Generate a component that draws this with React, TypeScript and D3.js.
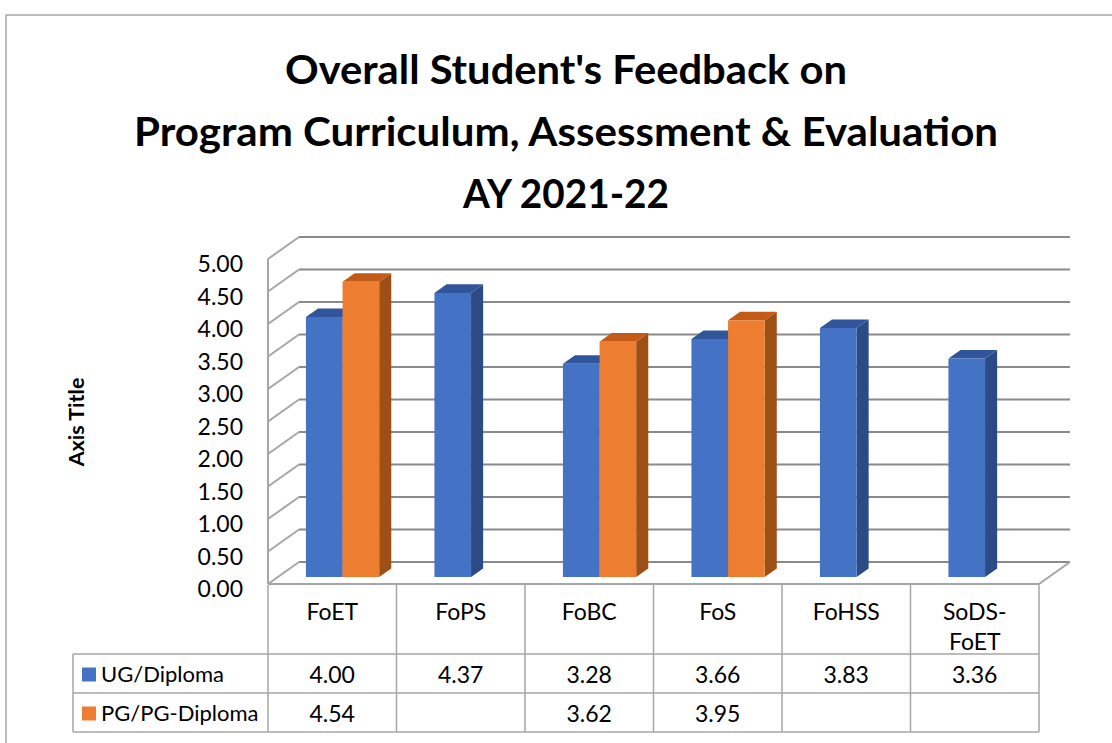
import React from "react";
import * as d3 from "d3";

const categories = ["FoET", "FoPS", "FoBC", "FoS", "FoHSS", "SoDS-FoET"];
const seriesNames = ["UG/Diploma", "PG/PG-Diploma"];
const ugValues: (number | null)[] = [4.0, 4.37, 3.28, 3.66, 3.83, 3.36];
const pgValues: (number | null)[] = [4.54, null, 3.62, 3.95, null, null];
const yTicks = [0, 0.5, 1, 1.5, 2, 2.5, 3, 3.5, 4, 4.5, 5];
const titleLines = [
  "Overall Student's Feedback on",
  "Program Curriculum, Assessment & Evaluation",
  "AY 2021-22",
];
// measured widths of the title lines (Calibri in the original)
const titleWidths = [562, 864, 206];

const FONT = "Lato, 'Open Sans', sans-serif";
const FRONT = { blue: "#4472c4", orange: "#ed7d31" };
const TOP = { blue: "#30559a", orange: "#c25b17" };
const SIDE = { blue: "#2b4a86", orange: "#9e4f16" };

function App() {
  const width = 1112;
  const height = 743;

  // plot box (front plane) and depth offset of the 3D walls
  const left = 268;
  const right = 1039;
  const DX = 31;
  const DY = 22;

  const x0 = d3.scaleBand<string>().domain(categories).range([left, right]).padding(0);
  const bw = x0.bandwidth();
  const x1 = d3
    .scaleBand<string>()
    .domain(seriesNames)
    .range([bw * 0.218, bw * 0.788])
    .padding(0);
  const y = d3.scaleLinear().domain([0, 5]).range([584, 259]);

  const proj = (x: number, v: number, d: number): [number, number] => [
    x + d * DX,
    y(v) - d * DY,
  ];

  const barFront = 0.32;
  const barBack = 0.71;

  const series = [
    { name: seriesNames[0], values: ugValues, key: "blue" as const },
    { name: seriesNames[1], values: pgValues, key: "orange" as const },
  ];

  const pts = (arr: [number, number][]) => arr.map((p) => p.join(",")).join(" ");

  const bars: JSX.Element[] = [];
  categories.forEach((c, ci) => {
    series.forEach((s) => {
      const v = s.values[ci];
      if (v == null) return;
      const xa = (x0(c) ?? 0) + (x1(s.name) ?? 0);
      const xb = xa + x1.bandwidth();
      const fl = proj(xa, 0, barFront);
      const fr = proj(xb, 0, barFront);
      const tl = proj(xa, v, barFront);
      const tr = proj(xb, v, barFront);
      const btl = proj(xa, v, barBack);
      const btr = proj(xb, v, barBack);
      const bbr = proj(xb, 0, barBack);
      bars.push(
        <g key={`${c}-${s.name}`}>
          <polygon points={pts([tr, btr, bbr, fr])} fill={SIDE[s.key]} />
          <polygon points={pts([tl, btl, btr, tr])} fill={TOP[s.key]} />
          <polygon points={pts([tl, tr, fr, fl])} fill={FRONT[s.key]} />
        </g>
      );
    });
  });

  const gridColor = "#8a8a8a";
  const walls = (
    <g stroke={gridColor} strokeWidth={2} fill="none">
      {yTicks.map((t) => {
        const a = proj(left, t, 1);
        const b = proj(right, t, 1);
        const f = proj(left, t, 0);
        return (
          <g key={t}>
            <line x1={a[0]} y1={a[1]} x2={b[0]} y2={b[1]} />
            <line x1={f[0]} y1={f[1]} x2={a[0]} y2={a[1]} stroke="#a6a6a6" />
          </g>
        );
      })}
      <line x1={left} y1={y(0)} x2={left} y2={y(5)} stroke="#a6a6a6" />
      <polyline
        points={pts([proj(left, 0, 0), proj(right, 0, 0), proj(right, 0, 1)])}
        stroke="#a6a6a6"
      />
    </g>
  );

  const tickLabels = yTicks.map((t) => (
    <text
      key={t}
      x={243}
      y={y(t) + 4}
      textAnchor="end"
      dominantBaseline="central"
      fontSize={23}
      fontFamily={FONT}
    >
      {t.toFixed(2)}
    </text>
  ));

  // data table
  const tTop = y(0) + 1;
  const rowTops = [654, 693];
  const rowH = 39;
  const tableLeft = 73;
  const border = "#a6a6a6";

  const headerCells = categories.map((c) => {
    const cx = (x0(c) ?? 0) + bw / 2;
    const lines = c.length > 6 && c.includes("-") ? [c.slice(0, c.indexOf("-") + 1), c.slice(c.indexOf("-") + 1)] : [c];
    return (
      <text key={c} textAnchor="middle" fontSize={23} fontFamily={FONT}>
        {lines.map((l, i) => (
          <tspan key={i} x={cx} y={611 + i * 30} dominantBaseline="central">
            {l}
          </tspan>
        ))}
      </text>
    );
  });

  const rows = series.map((s, si) => {
    const cy = rowTops[si] + rowH / 2;
    return (
      <g key={s.name} fontFamily={FONT} fontSize={23}>
        <rect x={82} y={cy - 6} width={14} height={14} fill={FRONT[s.key]} />
        <text x={101} y={cy} dominantBaseline="central" fontSize={22}>
          {s.name}
        </text>
        {categories.map((c, ci) => {
          const v = s.values[ci];
          return (
            <text
              key={c}
              x={(x0(c) ?? 0) + bw / 2}
              y={cy}
              textAnchor="middle"
              dominantBaseline="central"
            >
              {v == null ? "" : v.toFixed(2)}
            </text>
          );
        })}
      </g>
    );
  });

  const tableLines = (
    <g stroke={border} strokeWidth={1.5}>
      {categories.map((c) => (
        <line key={c} x1={x0(c)} y1={tTop} x2={x0(c)} y2={rowTops[1] + rowH} />
      ))}
      <line x1={right} y1={tTop} x2={right} y2={rowTops[1] + rowH} />
      <line x1={tableLeft} y1={rowTops[0]} x2={tableLeft} y2={rowTops[1] + rowH} />
      {[rowTops[0], rowTops[1], rowTops[1] + rowH].map((ry) => (
        <line key={ry} x1={tableLeft} y1={ry} x2={right} y2={ry} />
      ))}
    </g>
  );

  return (
    <svg
      width={width}
      height={height}
      style={{ position: "absolute", left: 0, top: 0, background: "#fff" }}
    >
      <rect x={0} y={0} width={width} height={height} fill="#fff" />
      <polyline points="6,743 6,15 1112,15" fill="none" stroke="#a6a6a6" strokeWidth={1.5} />
      <g fontFamily={FONT} fontWeight="bold" fontSize={41} textAnchor="middle">
        {titleLines.map((l, i) => (
          <text
            key={i}
            x={566}
            y={84 + i * 62}
            textLength={titleWidths[i]}
            lengthAdjust="spacingAndGlyphs"
          >
            {l}
          </text>
        ))}
      </g>
      <text
        transform="translate(76,422) rotate(-90)"
        textAnchor="middle"
        dominantBaseline="central"
        fontFamily={FONT}
        fontWeight="bold"
        fontSize={21.5}
      >
        Axis Title
      </text>
      {walls}
      {bars}
      {tickLabels}
      {tableLines}
      {headerCells}
      {rows}
    </svg>
  );
}

export default App;
